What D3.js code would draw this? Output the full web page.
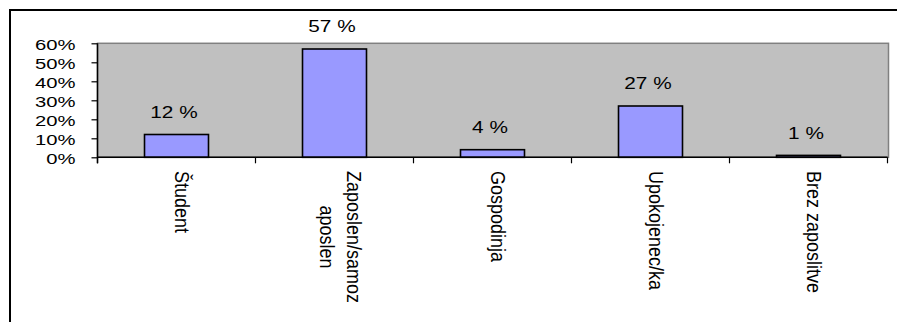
<!DOCTYPE html>
<html>
<head>
<meta charset="utf-8">
<script src="https://cdn.jsdelivr.net/npm/d3@7"></script>
<style>
  html, body { margin: 0; padding: 0; background: #fff; }
  svg { display: block; font-family: Arial, "Liberation Sans", sans-serif; }
</style>
</head>
<body>
<svg id="chart" width="897" height="322"></svg>
<script>
// Status of respondents (share, %)
const categories = ["Študent", "Zaposlen/samozaposlen", "Gospodinja", "Upokojenec/ka", "Brez zaposlitve"];
const shares = [12, 57, 4, 27, 1];
const yTicks = [0, 10, 20, 30, 40, 50, 60];

const svg = d3.select("#chart");
const W = 897, H = 322;

// plot frame
const plot = { left: 97.5, right: 887.5, top: 43.3, bottom: 157.3 };

const x = d3.scaleBand()
  .domain(categories)
  .range([plot.left, plot.right])
  .paddingInner(0.595)
  .paddingOuter(0.2975);
const step = x.step();

const y = d3.scaleLinear()
  .domain([0, 60])
  .range([plot.bottom, plot.top]);

// outer chart border (top and left edges)
svg.append("path")
  .attr("d", `M10,${H} L10,10 L${W},10`)
  .attr("fill", "none")
  .attr("stroke", "#000")
  .attr("stroke-width", 2);

// plot area
svg.append("rect")
  .attr("x", plot.left).attr("y", plot.top)
  .attr("width", plot.right - plot.left + 1)
  .attr("height", plot.bottom - plot.top)
  .attr("fill", "#c0c0c0")
  .attr("stroke", "#808080")
  .attr("stroke-width", 1.5);

// bars
svg.append("g").selectAll("rect")
  .data(shares)
  .join("rect")
  .attr("x", (d, i) => x(categories[i]))
  .attr("y", d => y(d))
  .attr("width", x.bandwidth())
  .attr("height", d => y(0) - y(d))
  .attr("fill", "#9999ff")
  .attr("stroke", "#000")
  .attr("stroke-width", 1.6);

// value labels
svg.append("g").selectAll("text")
  .data(shares)
  .join("text")
  .attr("transform", (d, i) =>
    `translate(${x(categories[i]) + x.bandwidth() / 2 - 2.5},${y(d) - 16.7}) scale(1.3,1)`)
  .attr("text-anchor", "middle")
  .attr("font-size", 16)
  .attr("fill", "#000")
  .text(d => `${d} %`);

// y axis
const yAxis = d3.axisLeft(y)
  .tickValues(yTicks)
  .tickSize(6)
  .tickFormat(d => `${d}%`);
const gy = svg.append("g")
  .attr("transform", `translate(${plot.left},0)`)
  .call(yAxis);
gy.select(".domain").attr("d", `M0,${plot.top}V${plot.bottom + 6}`)
  .attr("stroke", "#000").attr("stroke-width", 1.5);
gy.selectAll(".tick line").attr("stroke", "#000").attr("stroke-width", 1.2);
gy.selectAll(".tick text")
  .attr("font-size", 15)
  .attr("font-family", 'Arial, "Liberation Sans", sans-serif')
  .attr("fill", "#000")
  .attr("x", null).attr("dy", null)
  .attr("text-anchor", "end")
  .attr("transform", "translate(-22,6) scale(1.35,1)");

// x axis line with ticks at category boundaries
const gx = svg.append("g");
gx.append("line")
  .attr("x1", plot.left).attr("x2", plot.right)
  .attr("y1", plot.bottom).attr("y2", plot.bottom)
  .attr("stroke", "#000").attr("stroke-width", 1.5);
gx.selectAll("line.tk")
  .data(d3.range(categories.length + 1))
  .join("line")
  .attr("class", "tk")
  .attr("x1", i => plot.left + i * step)
  .attr("x2", i => plot.left + i * step)
  .attr("y1", plot.bottom).attr("y2", plot.bottom + 6)
  .attr("stroke", "#000").attr("stroke-width", 1.2);

// rotated category labels, wrapped by character to a fixed width
const labelFont = 18, labelMax = 137, lineGap = 23.4, labelTop = 171, labelSx = 1.17;
const measurer = svg.append("text").attr("font-size", labelFont).attr("visibility", "hidden");
function measure(s) { measurer.text(s); return measurer.node().getComputedTextLength(); }
function wrapChars(s) {
  const lines = [];
  let cur = "";
  for (const ch of s) {
    if (cur && measure(cur + ch) > labelMax) { lines.push(cur); cur = ch; }
    else cur += ch;
  }
  if (cur) lines.push(cur);
  return lines;
}

categories.forEach(cat => {
  const lines = wrapChars(cat);
  const maxW = d3.max(lines, measure);
  const cx = x(cat) + x.bandwidth() / 2;
  const g = svg.append("g")
    .attr("transform", `translate(${cx},${labelTop}) scale(${labelSx},1) rotate(90)`);
  g.selectAll("text")
    .data(lines)
    .join("text")
    .attr("x", maxW / 2)
    .attr("y", (d, i) => 1 + (i - (lines.length - 1) / 2) * lineGap)
    .attr("text-anchor", "middle")
    .attr("font-size", labelFont)
    .attr("fill", "#000")
    .text(d => d);
});
measurer.remove();
</script>
</body>
</html>
